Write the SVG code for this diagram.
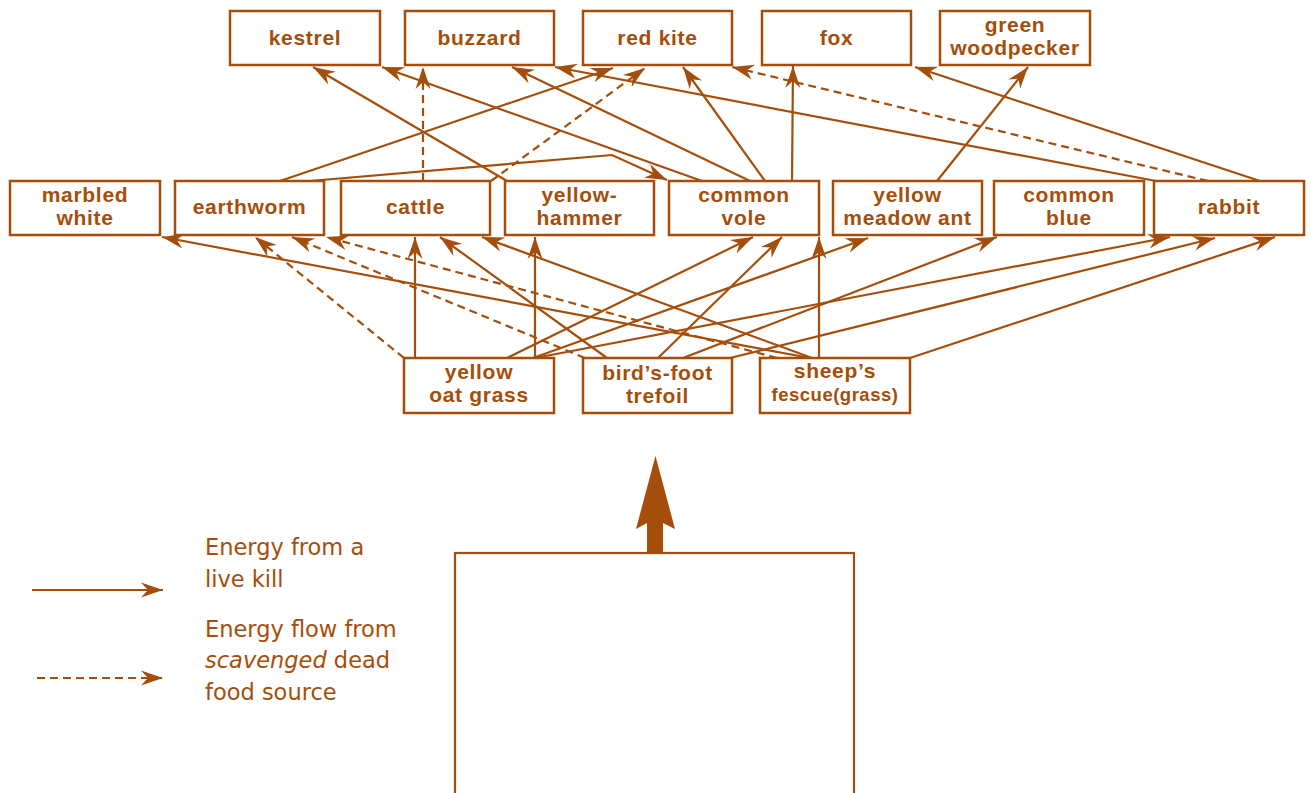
<svg xmlns="http://www.w3.org/2000/svg" width="1311" height="793" viewBox="0 0 1311 793">
<style>
.box{fill:#fff;stroke:#a54e0b;stroke-width:2.5}
.lbl{font-family:"Liberation Sans",Arial,sans-serif;font-weight:bold;font-size:21px;letter-spacing:0.7px;fill:#a54e0b;text-anchor:middle}
.sm{font-size:18.5px;letter-spacing:0.5px}
.leg{font-family:"DejaVu Sans",sans-serif;font-size:22.5px;fill:#a54e0b}
.c{fill:none;stroke:#a54e0b;stroke-width:2.2;marker-end:url(#ah)}
.d{stroke-dasharray:8,5}
</style>
<defs>
<marker id="ah" markerUnits="userSpaceOnUse" markerWidth="26" markerHeight="18" viewBox="-24 -9 26 18" refX="0" refY="0" orient="auto">
<path d="M0,0 L-22,-7.5 L-15,0 L-22,7.5 Z" fill="#a54e0b"/>
</marker>
</defs>
<rect width="1311" height="793" fill="#fff"/>

<g id="connectors">
<line class="c" x1="507" y1="181" x2="313" y2="67"/>
<line class="c" x1="702" y1="181" x2="382" y2="67"/>
<line class="c" x1="750" y1="181" x2="512" y2="67"/>
<line class="c d" x1="423" y1="181" x2="423" y2="67"/>
<line class="c" x1="1156" y1="181" x2="555" y2="67"/>
<line class="c" x1="280" y1="181" x2="613" y2="68"/>
<line class="c d" x1="491" y1="181" x2="645" y2="68"/>
<line class="c" x1="765" y1="181" x2="683" y2="67"/>
<line class="c d" x1="1208" y1="181" x2="732" y2="67"/>
<line class="c" x1="792" y1="181" x2="793" y2="66"/>
<line class="c" x1="1260" y1="181" x2="915" y2="67"/>
<line class="c" x1="937" y1="181" x2="1028" y2="67"/>
<polyline class="c" points="310,181 612,155 667,180"/>
<line class="c d" x1="404" y1="358" x2="255" y2="237"/>
<line class="c d" x1="585" y1="358" x2="292" y2="237"/>
<line class="c d" x1="777" y1="358" x2="326" y2="237"/>
<line class="c" x1="810" y1="358" x2="162" y2="237"/>
<line class="c" x1="415" y1="358" x2="415" y2="237"/>
<line class="c" x1="607" y1="358" x2="440" y2="237"/>
<line class="c" x1="812" y1="358" x2="482" y2="237"/>
<line class="c" x1="535" y1="358" x2="535" y2="237"/>
<line class="c" x1="507" y1="358" x2="753" y2="237"/>
<line class="c" x1="658" y1="358" x2="782" y2="237"/>
<line class="c" x1="819" y1="358" x2="819" y2="237"/>
<line class="c" x1="533" y1="358" x2="868" y2="238"/>
<line class="c" x1="683" y1="358" x2="997" y2="237"/>
<line class="c" x1="535" y1="358" x2="1170" y2="237"/>
<line class="c" x1="730" y1="358" x2="1215" y2="238"/>
<line class="c" x1="910" y1="358" x2="1275" y2="237"/>
</g>

<g id="kestrel"><rect class="box" x="230" y="11" width="150" height="54"/><text class="lbl" x="305" y="45">kestrel</text></g>
<g id="buzzard"><rect class="box" x="405" y="11" width="149" height="54"/><text class="lbl" x="479.5" y="45">buzzard</text></g>
<g id="red-kite"><rect class="box" x="583" y="11" width="149" height="54"/><text class="lbl" x="657.5" y="45">red kite</text></g>
<g id="fox"><rect class="box" x="762" y="11" width="149" height="54"/><text class="lbl" x="836.5" y="45">fox</text></g>
<g id="green-woodpecker"><rect class="box" x="940" y="11" width="150" height="54"/><text class="lbl" x="1015" y="32">green</text><text class="lbl" x="1015" y="55">woodpecker</text></g>

<g id="marbled-white"><rect class="box" x="10" y="181" width="150" height="54"/><text class="lbl" x="85" y="202">marbled</text><text class="lbl" x="85" y="225">white</text></g>
<g id="earthworm"><rect class="box" x="175" y="181" width="149" height="54"/><text class="lbl" x="249.5" y="214">earthworm</text></g>
<g id="cattle"><rect class="box" x="341" y="181" width="149" height="54"/><text class="lbl" x="415.5" y="214">cattle</text></g>
<g id="yellowhammer"><rect class="box" x="505" y="181" width="149" height="54"/><text class="lbl" x="579.5" y="202">yellow-</text><text class="lbl" x="579.5" y="225">hammer</text></g>
<g id="common-vole"><rect class="box" x="669" y="181" width="150" height="54"/><text class="lbl" x="744" y="202">common</text><text class="lbl" x="744" y="225">vole</text></g>
<g id="yellow-meadow-ant"><rect class="box" x="833" y="181" width="149" height="54"/><text class="lbl" x="907.5" y="202">yellow</text><text class="lbl" x="907.5" y="225">meadow ant</text></g>
<g id="common-blue"><rect class="box" x="994" y="181" width="150" height="54"/><text class="lbl" x="1069" y="202">common</text><text class="lbl" x="1069" y="225">blue</text></g>
<g id="rabbit"><rect class="box" x="1154" y="181" width="150" height="54"/><text class="lbl" x="1229" y="214">rabbit</text></g>

<g id="yellow-oat-grass"><rect class="box" x="404" y="358" width="150" height="55"/><text class="lbl" x="479" y="379">yellow</text><text class="lbl" x="479" y="402">oat grass</text></g>
<g id="birds-foot-trefoil"><rect class="box" x="583" y="358" width="149" height="55"/><text class="lbl" x="657.5" y="380">bird’s-foot</text><text class="lbl" x="657.5" y="403">trefoil</text></g>
<g id="sheeps-fescue"><rect class="box" x="760" y="358" width="150" height="55"/><text class="lbl" x="835" y="378">sheep’s</text><text class="lbl sm" x="835" y="401">fescue(grass)</text></g>

<g id="energy-input">
<rect x="455" y="553" width="399" height="270" fill="none" stroke="#a54e0b" stroke-width="2.2"/>
<polygon points="655.5,456 675,529 663,523 663,553 647,553 647,523 636,529" fill="#a54e0b"/>
</g>

<g id="legend">
<line class="c" x1="32" y1="590" x2="163" y2="590"/>
<line class="c d" x1="37" y1="678" x2="163" y2="678"/>
<text class="leg" x="205" y="555">Energy from a</text>
<text class="leg" x="205" y="587">live kill</text>
<text class="leg" x="205" y="637">Energy flow from</text>
<text class="leg" x="205" y="668"><tspan font-style="italic">scavenged</tspan> dead</text>
<text class="leg" x="205" y="700">food source</text>
</g>
</svg>
